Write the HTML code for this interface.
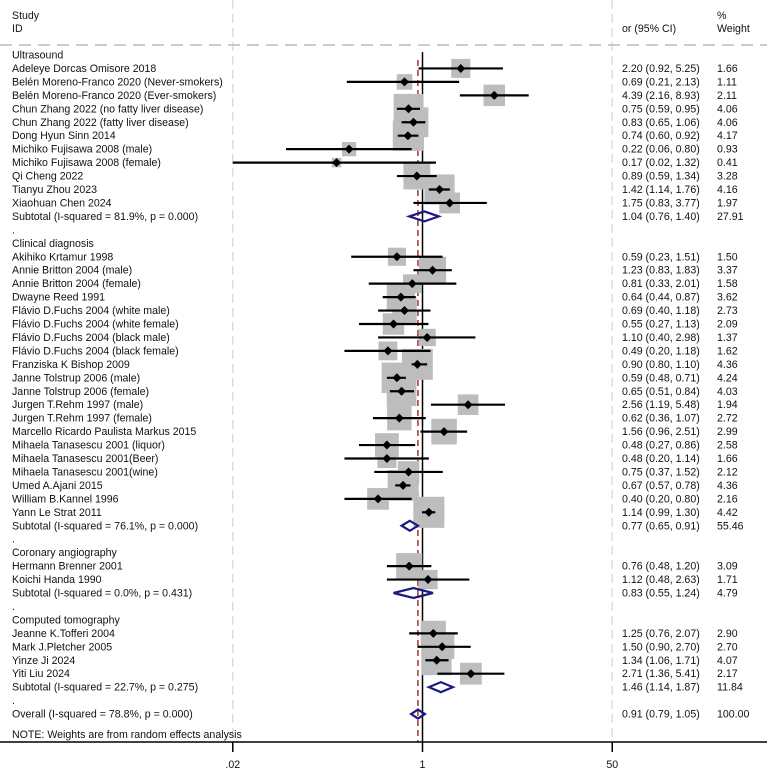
<!DOCTYPE html>
<html><head><meta charset="utf-8">
<style>
html,body{margin:0;padding:0;background:#fff;}
svg{display:block;font-family:"Liberation Sans",Arial,sans-serif;}
</style></head>
<body>
<svg id="plot" width="767" height="770" viewBox="0 0 767 770" xmlns="http://www.w3.org/2000/svg"></svg>
<script>
// type: h=heading, s=study, t=subtotal, d=dot spacer, o=overall
const rowLabels = ["Ultrasound","Adeleye Dorcas Omisore 2018","Belén Moreno-Franco 2020 (Never-smokers)","Belén Moreno-Franco 2020 (Ever-smokers)","Chun Zhang 2022 (no fatty liver disease)","Chun Zhang 2022 (fatty liver disease)","Dong Hyun Sinn 2014","Michiko Fujisawa 2008 (male)","Michiko Fujisawa 2008 (female)","Qi Cheng 2022","Tianyu Zhou 2023","Xiaohuan Chen 2024","Subtotal  (I-squared = 81.9%, p = 0.000)",".",
"Clinical diagnosis","Akihiko Krtamur 1998","Annie Britton 2004 (male)","Annie Britton 2004 (female)","Dwayne Reed 1991","Flávio D.Fuchs 2004 (white male)","Flávio D.Fuchs 2004 (white female)","Flávio D.Fuchs 2004 (black male)","Flávio D.Fuchs 2004 (black female)","Franziska K Bishop 2009","Janne Tolstrup 2006 (male)","Janne Tolstrup 2006 (female)","Jurgen T.Rehm 1997 (male)","Jurgen T.Rehm 1997 (female)","Marcello Ricardo Paulista Markus 2015","Mihaela Tanasescu 2001 (liquor)","Mihaela Tanasescu 2001(Beer)","Mihaela Tanasescu 2001(wine)","Umed A.Ajani 2015","William B.Kannel 1996","Yann Le Strat 2011","Subtotal  (I-squared = 76.1%, p = 0.000)",".",
"Coronary angiography","Hermann Brenner 2001","Koichi Handa 1990","Subtotal  (I-squared = 0.0%, p = 0.431)",".",
"Computed tomography","Jeanne K.Tofferi 2004","Mark J.Pletcher 2005","Yinze Ji 2024","Yiti Liu 2024","Subtotal  (I-squared = 22.7%, p = 0.275)",".",
"Overall  (I-squared = 78.8%, p = 0.000)"];
const rowTypes = ["h","s","s","s","s","s","s","s","s","s","s","s","t","d",
"h","s","s","s","s","s","s","s","s","s","s","s","s","s","s","s","s","s","s","s","s","t","d",
"h","s","s","t","d",
"h","s","s","s","s","t","d","o"];
const orValues = [null,2.20,0.69,4.39,0.75,0.83,0.74,0.22,0.17,0.89,1.42,1.75,1.04,null,
null,0.59,1.23,0.81,0.64,0.69,0.55,1.10,0.49,0.90,0.59,0.65,2.56,0.62,1.56,0.48,0.48,0.75,0.67,0.40,1.14,0.77,null,
null,0.76,1.12,0.83,null,
null,1.25,1.50,1.34,2.71,1.46,null,0.91];
const ciLow = [null,0.92,0.21,2.16,0.59,0.65,0.60,0.06,0.02,0.59,1.14,0.83,0.76,null,
null,0.23,0.83,0.33,0.44,0.40,0.27,0.40,0.20,0.80,0.48,0.51,1.19,0.36,0.96,0.27,0.20,0.37,0.57,0.20,0.99,0.65,null,
null,0.48,0.48,0.55,null,
null,0.76,0.90,1.06,1.36,1.14,null,0.79];
const ciHigh = [null,5.25,2.13,8.93,0.95,1.06,0.92,0.80,1.32,1.34,1.76,3.77,1.40,null,
null,1.51,1.83,2.01,0.87,1.18,1.13,2.98,1.18,1.10,0.71,0.84,5.48,1.07,2.51,0.86,1.14,1.52,0.78,0.80,1.30,0.91,null,
null,1.20,2.63,1.24,null,
null,2.07,2.70,1.71,5.41,1.87,null,1.05];
const weights = [null,1.66,1.11,2.11,4.06,4.06,4.17,0.93,0.41,3.28,4.16,1.97,27.91,null,
null,1.50,3.37,1.58,3.62,2.73,2.09,1.37,1.62,4.36,4.24,4.03,1.94,2.72,2.99,2.58,1.66,2.12,4.36,2.16,4.42,55.46,null,
null,3.09,1.71,4.79,null,
null,2.90,2.70,4.07,2.17,11.84,null,100.00];
const tickValues = [0.02, 1, 50];
const tickLabels = [".02", "1", "50"];
const overallEffect = 0.91;

const NS = "http://www.w3.org/2000/svg";
const svg = document.getElementById("plot");
const X0 = 422.5, PXLN = 48.5, Y0 = 55, DY = 13.45, AXY = 742, XMIN = 232, XMAX = 613;
const FS = 10.6, CIX = 622, WX = 717;
function xScale(v){ let x = X0 + PXLN*Math.log(v); return Math.max(XMIN, Math.min(XMAX, x)); }
function yRow(i){ return Y0 + DY*i; }
function mk(tag, attrs, parent){ const e=document.createElementNS(NS,tag); for(const k in attrs) e.setAttribute(k,attrs[k]); (parent||svg).appendChild(e); return e; }
function txt(x,y,s,size,parent){ const t=mk("text",{x:x,y:y,"font-size":size||FS,fill:"#111"},parent); t.textContent=s; return t; }

tickValues.forEach((v,i)=>{ if(v!==1){ const l=mk("line",{x1:xScale(v),x2:xScale(v),y1:0,y2:AXY,stroke:"#ddd","stroke-width":1.5,"stroke-dasharray":"9,5"});

 }});
const hd = mk("line",{x1:0,x2:767,y1:45,y2:45,stroke:"#bbb","stroke-width":1.5,"stroke-dasharray":"12,7"});



let t;
t=txt(12,19,"Study");  
t=txt(12,32,"ID");  
t=txt(CIX,32,"or (95% CI)");  
t=txt(WX,19,"%");  
t=txt(WX,32,"Weight");  

const nl = mk("line",{x1:xScale(1),x2:xScale(1),y1:52,y2:AXY,stroke:"#000","stroke-width":1.5});


const ol = mk("line",{x1:xScale(overallEffect),x2:xScale(overallEffect),y1:60,y2:AXY,stroke:"#a33","stroke-width":1.5,"stroke-dasharray":"6,4"});



const gBox = mk("g",{});
const gLine = mk("g",{});
rowLabels.forEach((lab,i)=>{
  const y = yRow(i);
  const ty = rowTypes[i];
  const tl = txt(12, y+3.5, lab);
  
  
  if(ty==="s"||ty==="t"||ty==="o"){
    const v = txt(CIX, y+3.5, orValues[i].toFixed(2)+" ("+ciLow[i].toFixed(2)+", "+ciHigh[i].toFixed(2)+")");
    
    
    const w = txt(WX, y+3.5, weights[i].toFixed(2));
    
    
  }
  if(ty==="s"){
    const s = 14.8*Math.sqrt(weights[i]);
    const cx = xScale(orValues[i]);
    const b = mk("rect",{x:cx-s/2,y:y-s/2,width:s,height:s,fill:"#bdbdbd"},gBox);
    
    
    const l = mk("line",{x1:xScale(ciLow[i]),x2:xScale(ciHigh[i]),y1:y,y2:y,stroke:"#000","stroke-width":2.2},gLine);
    
    
    const d = mk("polygon",{points:`${cx-4.5},${y} ${cx},${y-4.5} ${cx+4.5},${y} ${cx},${y+4.5}`,fill:"#000"},gLine);
    
    
  } else if(ty==="t"||ty==="o"){
    const a=xScale(ciLow[i]), c=xScale(orValues[i]), e=xScale(ciHigh[i]);
    const h = ty==="o" ? 4.5 : 5;
    const d = mk("polygon",{points:`${a},${y} ${c},${y-h} ${e},${y} ${c},${y+h}`,fill:"none",stroke:"#1a1a80","stroke-width":2.2},gLine);
    
    
  }
});
t=txt(12,738,"NOTE: Weights are from random effects analysis");
 

const ax = mk("line",{x1:0,x2:767,y1:AXY,y2:AXY,stroke:"#000","stroke-width":1.5});


tickValues.forEach((v,i)=>{
  const tk = mk("line",{x1:xScale(v),x2:xScale(v),y1:AXY,y2:AXY+10,stroke:"#000","stroke-width":1.5});
  
  
  const tt = txt(xScale(v),768,tickLabels[i]);
  tt.setAttribute("text-anchor","middle");
  
  
});
</script>
</body></html>
